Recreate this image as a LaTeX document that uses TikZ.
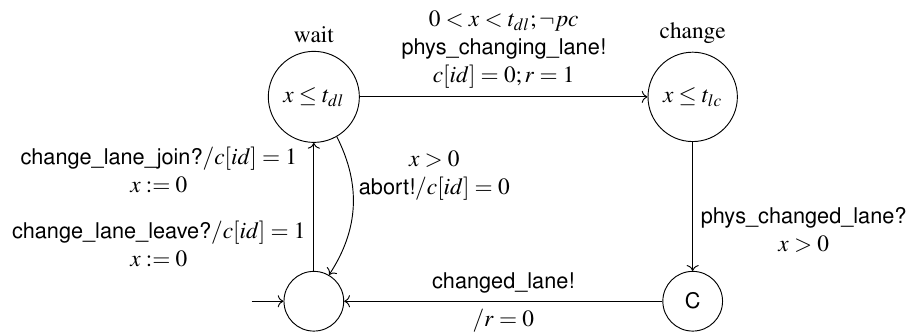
\documentclass[tikz,border=0pt]{standalone}
\usepackage[T1]{fontenc}
\usepackage{mathptmx}
\usepackage[scaled=0.93]{helvet}
\usetikzlibrary{arrows.meta, positioning}

\begin{document}
\begin{tikzpicture}[
  loc/.style={draw, circle, minimum size=0.9cm, inner sep=4.5pt},
  trans/.style={->},
  guard/.style={align=center}
]
  \useasboundingbox (0,0) rectangle (13.70,-5.05);

  \node[loc, label=above:wait]   (wait)   at (4.73,-1.46)  {$x \le t_{dl}$};
  \node[loc, label=above:change] (change) at (10.44,-1.46) {$x \le t_{lc}$};
  \node[loc]                     (idle)   at (4.73,-4.54)  {};
  \node[loc, font=\sffamily]     (commit) at (10.44,-4.54) {C};
  \coordinate[left=0.48cm of idle.west] (start);

  \draw[trans] (start) -- (idle);
  \draw[trans] (wait) -- node[above, guard]
    {$0 < x < t_{dl}; \neg pc$\\ \textsf{phys\_changing\_lane!}\\ $c[id] = 0; r = 1$} (change);
  \draw[trans] (change) -- node[right, guard, pos=0.68]
    {\textsf{phys\_changed\_lane?}\\ $x > 0$} (commit);
  \draw[trans] (commit) -- node[above] {\textsf{changed\_lane!}}
    node[below] {$/r = 0$} (idle);
  \draw[trans] (idle) -- node[left, guard]
    {\textsf{change\_lane\_join?}$/c[id] = 1$\\ $x := 0$\\[1.8ex]
     \textsf{change\_lane\_leave?}$/c[id] = 1$\\ $x := 0$} (wait);
  \draw[trans] (wait) to[bend left=30] node[right, guard, pos=0.27]
    {$x > 0$\\ \textsf{abort!}$/c[id] = 0$} (idle);
\end{tikzpicture}
\end{document}
